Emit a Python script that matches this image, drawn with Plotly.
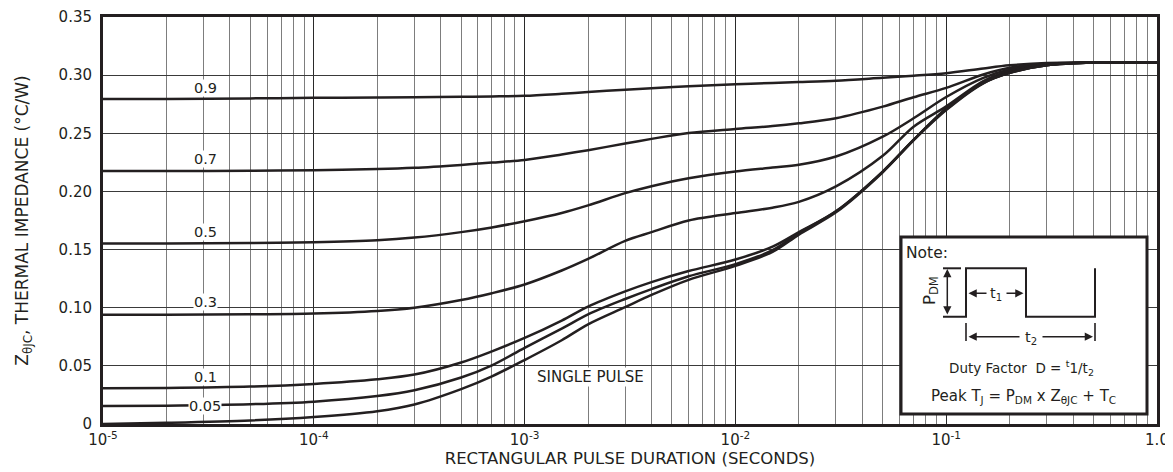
import math
import plotly.graph_objects as go

# ---------------- data ----------------
pulse_duration = [1e-5, 2e-5, 5e-5, 1e-4, 2e-4, 3e-4, 5e-4, 7e-4, 1e-3, 1.5e-3, 2e-3, 3e-3, 4e-3,
                  6e-3, 1e-2, 1.5e-2, 2e-2, 3e-2, 5e-2, 7e-2, 1e-1, 1.5e-1, 2e-1, 3e-1, 5e-1, 1.0]

z_d090 = [0.2795, 0.2795, 0.2800, 0.2805, 0.2808, 0.2810, 0.2814, 0.2817, 0.2822, 0.2840, 0.2855,
          0.2875, 0.2888, 0.2905, 0.2922, 0.2932, 0.2940, 0.2952, 0.2978, 0.2995, 0.3017, 0.3058,
          0.3084, 0.3104, 0.3108, 0.3108]
z_d070 = [0.2175, 0.2175, 0.2178, 0.2183, 0.2192, 0.2203, 0.2228, 0.2248, 0.2271, 0.2318, 0.2355,
          0.2412, 0.2452, 0.2503, 0.2537, 0.2562, 0.2586, 0.2630, 0.2729, 0.2810, 0.2890, 0.3006,
          0.3064, 0.3100, 0.3108, 0.3108]
z_d050 = [0.1553, 0.1553, 0.1556, 0.1563, 0.1580, 0.1603, 0.1650, 0.1690, 0.1744, 0.1815, 0.1880,
          0.1985, 0.2045, 0.2114, 0.2172, 0.2205, 0.2229, 0.2300, 0.2471, 0.2629, 0.2812, 0.2977,
          0.3049, 0.3092, 0.3108, 0.3108]
z_d030 = [0.0940, 0.0940, 0.0943, 0.0950, 0.0972, 0.1000, 0.1066, 0.1125, 0.1200, 0.1320, 0.1420,
          0.1575, 0.1650, 0.1750, 0.1814, 0.1860, 0.1910, 0.2043, 0.2306, 0.2557, 0.2731, 0.2948,
          0.3035, 0.3092, 0.3108, 0.3108]
z_d010 = [0.0307, 0.0310, 0.0322, 0.0345, 0.0385, 0.0425, 0.0529, 0.0625, 0.0740, 0.0890, 0.1010,
          0.1140, 0.1220, 0.1315, 0.1414, 0.1525, 0.1650, 0.1829, 0.2171, 0.2443, 0.2714, 0.2934,
          0.3020, 0.3084, 0.3108, 0.3108]
z_d005 = [0.0155, 0.0158, 0.0170, 0.0192, 0.0240, 0.0290, 0.0400, 0.0505, 0.0655, 0.0820, 0.0943,
          0.1075, 0.1160, 0.1270, 0.1375, 0.1495, 0.1643, 0.1829, 0.2171, 0.2443, 0.2706, 0.2934,
          0.3020, 0.3084, 0.3108, 0.3108]
z_single = [0.0000, 0.0010, 0.0030, 0.0060, 0.0110, 0.0168, 0.0300, 0.0410, 0.0550, 0.0720, 0.0857,
            0.1005, 0.1110, 0.1240, 0.1360, 0.1480, 0.1629, 0.1820, 0.2165, 0.2440, 0.2700, 0.2930,
            0.3020, 0.3084, 0.3108, 0.3108]

series_names = ["0.9", "0.7", "0.5", "0.3", "0.1", "0.05", "SINGLE PULSE"]
series_values = [z_d090, z_d070, z_d050, z_d030, z_d010, z_d005, z_single]

x_tick_values = [1e-5, 1e-4, 1e-3, 1e-2, 1e-1, 1.0]
x_tick_labels = ["10<sup>-5</sup>", "10<sup>-4</sup>", "10<sup>-3</sup>",
                 "10<sup>-2</sup>", "10<sup>-1</sup>", "1.0"]
y_tick_values = [0, 0.05, 0.10, 0.15, 0.20, 0.25, 0.30, 0.35]
y_tick_labels = ["0", "0.05", "0.10", "0.15", "0.20", "0.25", "0.30", "0.35"]

# ---------------- styling / layout ----------------
FONT = "DejaVu Sans, Verdana, sans-serif"
INK = "#231f20"
PAGE_OFFSET = 8                      # default body margin of the page
W, H = 1165, 464
ML, MR, MT, MB = 95, 16, 9, 48
PW, PH = W - ML - MR, H - MT - MB


def pp(px, py):
    """pixel position on the page -> paper coordinates"""
    return ((px - PAGE_OFFSET) - ML) / PW, (H - MB - (py - PAGE_OFFSET)) / PH


fig = go.Figure()
for name, vals in zip(series_names, series_values):
    fig.add_trace(go.Scatter(
        x=pulse_duration, y=vals, mode="lines", name=name,
        line=dict(color=INK, width=2.5, shape="spline", smoothing=0.9),
        showlegend=False, hoverinfo="skip"))

minor_x = [k * 10 ** e for e in range(-5, 0) for k in range(2, 10)]

fig.update_xaxes(
    type="log", range=[-5, 0],
    tickmode="array", tickvals=x_tick_values, ticktext=x_tick_labels,
    showgrid=True, gridcolor="#2a2a2a", gridwidth=1.4,
    minor=dict(tickmode="array", tickvals=minor_x, showgrid=True,
               gridcolor="#7d7d7d", gridwidth=1.1, ticks=""),
    ticks="", showline=True, linewidth=3, linecolor=INK, mirror=True,
    zeroline=False,
    tickfont=dict(family=FONT, size=15, color=INK),
    title=dict(text="RECTANGULAR PULSE DURATION (SECONDS)",
               font=dict(family=FONT, size=16.5, color=INK), standoff=5),
    automargin=False,
)
fig.update_yaxes(
    range=[0, 0.35],
    tickmode="array", tickvals=y_tick_values, ticktext=y_tick_labels,
    showgrid=True, gridcolor="#3a3a3a", gridwidth=1,
    ticks="", showline=True, linewidth=3, linecolor=INK, mirror=True,
    zeroline=False, ticklabelstandoff=5,
    tickfont=dict(family=FONT, size=15, color=INK),
    title=dict(text="Z<sub>θJC</sub>, THERMAL IMPEDANCE (°C/W)",
               font=dict(family=FONT, size=17, color=INK), standoff=26),
    automargin=False,
)

annotations = []

# curve labels
label_x = math.log10(3.05e-5)
label_y = [0.2890, 0.2276, 0.1655, 0.1046, 0.0408, 0.0152]
for txt, yv in zip(series_names[:6], label_y):
    annotations.append(dict(x=label_x, y=yv, xref="x", yref="y", text=txt,
                            showarrow=False, bgcolor="white", borderpad=0,
                            font=dict(family=FONT, size=14.5, color=INK)))
annotations.append(dict(x=math.log10(2.05e-3), y=0.0408, xref="x", yref="y",
                        text="SINGLE PULSE", showarrow=False, bgcolor="white",
                        borderpad=0, font=dict(family=FONT, size=15, color=INK)))

# ---------------- inset note ----------------
shapes = []
bx0, by0 = pp(901, 414)
bx1, by1 = pp(1147, 237)
shapes.append(dict(type="rect", xref="paper", yref="paper", x0=bx0, y0=by0, x1=bx1, y1=by1,
                   line=dict(color=INK, width=3), fillcolor="white", layer="above"))

wave_px = [(943, 316.7), (966, 316.7), (966, 268.3), (1026, 268.3), (1026, 316.7),
           (1095, 316.7), (1095, 268.3)]
path = ""
for i, (a, b) in enumerate(wave_px):
    xp, yp = pp(a, b)
    path += ("M" if i == 0 else " L") + f" {xp:.5f} {yp:.5f}"
shapes.append(dict(type="path", xref="paper", yref="paper", path=path,
                   line=dict(color=INK, width=2), layer="above"))


def seg(a, b, c, d, w=1.6):
    x0, y0 = pp(a, b)
    x1, y1 = pp(c, d)
    shapes.append(dict(type="line", xref="paper", yref="paper", x0=x0, y0=y0, x1=x1, y1=y1,
                       line=dict(color=INK, width=w), layer="above"))


seg(943, 268.3, 961, 268.3, 2)      # top reference of P_DM
seg(966, 323, 966, 341, 1.6)        # t2 left tick
seg(1095, 323, 1095, 341, 1.6)      # t2 right tick


def arrow(hx, hy, tx, ty, both=False):
    xp, yp = pp(hx, hy)
    annotations.append(dict(x=xp, y=yp, xref="paper", yref="paper", text="",
                            showarrow=True, ax=tx - hx, ay=ty - hy,
                            axref="pixel", ayref="pixel",
                            arrowhead=2, arrowsize=1.1, arrowwidth=1.5, arrowcolor=INK,
                            arrowside="end+start" if both else "end",
                            standoff=0, startstandoff=0))


arrow(947.3, 269, 947.3, 316, both=True)   # P_DM
arrow(968.5, 293.3, 988, 293.3)            # t1 left
arrow(1023.5, 293.3, 1005, 293.3)          # t1 right
arrow(968.5, 336.7, 1021, 336.7)           # t2 left
arrow(1093, 336.7, 1041, 336.7)            # t2 right


def text(px, py, s, size=14.5, anchor="center", angle=0):
    xp, yp = pp(px, py)
    annotations.append(dict(x=xp, y=yp, xref="paper", yref="paper", text=s,
                            showarrow=False, xanchor=anchor, yanchor="middle",
                            textangle=angle,
                            font=dict(family=FONT, size=size, color=INK)))


text(904, 253, "Note:", size=15.5, anchor="left")
text(930, 291, "P<sub>DM</sub>", size=16.5, angle=-90)
text(996, 294, "t<sub>1</sub>", size=14.5)
text(1031, 338, "t<sub>2</sub>", size=14.5)
text(1021, 368, "Duty Factor \u00a0D = <sup>t</sup>1/t<sub>2</sub>", size=13.5)
text(1023, 396, "Peak T<sub>J</sub> = P<sub>DM</sub> x Z<sub>θJC</sub> + T<sub>C</sub>", size=15)

fig.update_layout(
    width=W, height=H,
    margin=dict(l=ML, r=MR, t=MT, b=MB),
    paper_bgcolor="white", plot_bgcolor="white",
    font=dict(family=FONT, color=INK),
    shapes=shapes, annotations=annotations,
)

fig.write_html("out.html")
